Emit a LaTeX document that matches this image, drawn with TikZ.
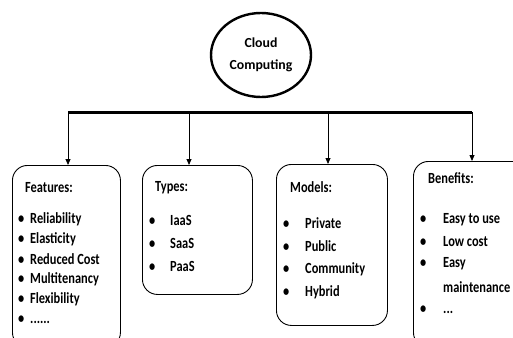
\documentclass[tikz,border=0pt]{standalone}
\usepackage{fontspec}
\setmainfont{Carlito}
\newfontfamily\narrowfont[FakeStretch=0.8]{Carlito}
\usetikzlibrary{shapes.geometric,arrows.meta,positioning}

\tikzset{
  topic/.style={ellipse, draw, line width=2.4pt, minimum width=100pt, minimum height=84pt,
    align=center, font=\fontsize{13.8}{22}\selectfont\bfseries},
  panel/.style={draw, rounded corners=15pt, line width=0.9pt, anchor=north west, inner sep=0pt},
  item/.style={anchor=west, inner sep=0pt, font=\narrowfont\fontsize{15.5}{18}\selectfont\bfseries},
  branch/.style={-{Triangle[length=6pt,width=5pt]}, line width=0.8pt},
}

\begin{document}
\begin{tikzpicture}[x=1pt,y=-1pt]
    \useasboundingbox (0,0) rectangle (513,337);
    \clip (0,0) rectangle (513,337);

    % root and the bar under it
    \node[topic] (cloud) at (261,55) {Cloud\\Computing};
    \coordinate (b1) at (68,112);
    \coordinate (b2) at (189,112);
    \coordinate (b3) at (328,112);
    \coordinate (b4) at (472,112);
    \draw[line width=3pt] (b1) -- (b4);

    % the four panels
    \node[panel, minimum width=108pt, minimum height=182pt] (feat) at (12,165) {};
    \node[panel, minimum width=110pt, minimum height=129pt] (types) at (142,165) {};
    \node[panel, minimum width=111pt, minimum height=161pt] (models) at (276,164) {};
    \node[panel, minimum width=114pt, minimum height=186pt] (bens) at (413,161) {};

    \draw[branch] (b1) -- (b1 |- feat.north);
    \draw[branch] (b2) -- (b2 |- types.north);
    \draw[branch] (b3) -- (b3 |- models.north);
    \draw[branch] (b4) -- (b4 |- bens.north);

    % Features
    \node[item] (feattitle) at (25,188) {Features:};
    \foreach \txt [count=\i] in {Reliability, Elasticity, Reduced Cost, Multitenancy, Flexibility}
        \node[item] (feat\i) at (18,199+20*\i) {\makebox[12pt][l]{•}\txt};
    \node[item] (feat6) at (18,320) {\makebox[12pt][l]{•}......};

    % Types
    \node[item] (typestitle) at (155,188) {Types:};
    \foreach \txt [count=\i] in {IaaS, SaaS, PaaS}
        \node[item] (types\i) at (149,197+23*\i) {\makebox[21pt][l]{•}\txt};

    % Models
    \node[item] (modelstitle) at (290,187) {Models:};
    \foreach \txt [count=\i] in {Private, Public, Community, Hybrid}
        \node[item] (models\i) at (283,200+23*\i) {\makebox[22pt][l]{•}\txt};

    % Benefits
    \node[item] (benstitle) at (428,178) {Benefits:};
    \node[item] (bens1) at (420,220) {\makebox[23pt][l]{•}Easy to use};
    \node[item] (bens2) at (420,242) {\makebox[23pt][l]{•}Low cost};
    \node[item] (bens3) at (420,264) {\makebox[23pt][l]{•}Easy};
    \node[item] (bens4) at (443,287) {maintenance};
    \node[item] (bens5) at (420,310) {\makebox[23pt][l]{•}...};
\end{tikzpicture}
\end{document}
